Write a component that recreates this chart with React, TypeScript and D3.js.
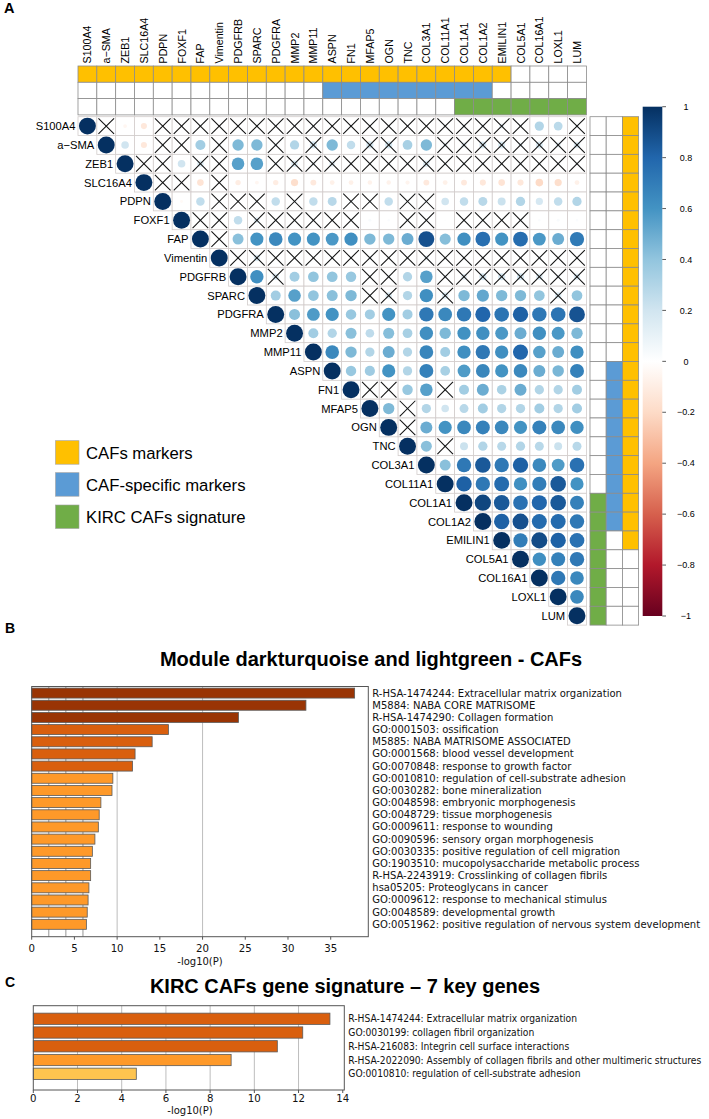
import { useEffect, useRef } from "react"
import * as d3 from "d3"

// genes of the correlation matrix (row / column order)
const genes = [
  "S100A4", "a\u2212SMA", "ZEB1", "SLC16A4", "PDPN", "FOXF1", "FAP", "Vimentin", "PDGFRB",
  "SPARC", "PDGFRA", "MMP2", "MMP11", "ASPN", "FN1", "MFAP5", "OGN", "TNC", "COL3A1",
  "COL11A1", "COL1A1", "COL1A2", "EMILIN1", "COL5A1", "COL16A1", "LOXL1", "LUM",
]

// upper triangle, row i holds the values for columns i+1 .. 26
const corrUpper = [
  [0.03, -0.05, -0.13, 0.02, 0.03, 0.05, 0.02, 0.04, 0.05, 0.04, 0.05, 0.05, 0.04, 0.04, 0.03, 0.05, 0.04, 0.03, 0.05, 0.06, 0.06, 0.1, 0.05, 0.3, 0.27, 0.06],
  [0.2, -0.13, 0.05, 0.04, 0.35, 0.05, 0.45, 0.45, 0.06, 0.3, 0.18, 0.45, 0.25, 0.18, 0.18, 0.33, 0.45, 0.08, 0.1, 0.17, 0.17, 0.08, 0.17, 0.1, 0.15],
  [0.02, 0.03, 0.2, 0.15, 0.04, 0.55, 0.55, 0.06, 0.15, 0.07, 0.12, 0.06, 0.04, 0.05, 0.05, 0.15, 0.05, 0.05, 0.06, 0.05, 0.06, 0.05, 0.04, 0.05],
  [0.02, 0.03, -0.15, 0.02, -0.1, -0.05, -0.1, -0.18, -0.12, -0.08, -0.08, -0.07, -0.07, -0.06, -0.12, -0.08, -0.12, -0.13, -0.15, -0.13, -0.2, -0.18, -0.08],
  [-0.03, 0.25, 0.05, 0.04, 0.05, 0.25, 0.06, 0.25, 0.28, 0.06, 0.05, 0.25, 0.05, 0.06, 0.2, 0.25, 0.28, 0.22, 0.3, 0.18, 0.25, 0.3],
  [0.04, 0.05, 0.25, 0.12, 0.05, 0.04, 0.05, 0.04, 0.04, 0.03, 0.02, 0.05, 0.05, 0.01, 0.04, 0.05, 0.04, 0.05, 0.02, 0.03, 0.02],
  [0.05, 0.42, 0.6, 0.65, 0.6, 0.6, 0.58, 0.62, 0.45, 0.45, 0.5, 0.88, 0.43, 0.62, 0.76, 0.6, 0.77, 0.58, 0.5, 0.71],
  [0.05, 0.15, 0.04, 0.05, 0.03, 0.05, 0.04, 0.06, 0.05, 0.05, 0.1, 0.04, 0.05, 0.04, 0.05, 0.04, 0.05, 0.03, 0.05],
  [0.62, 0.15, 0.35, 0.4, 0.4, 0.38, 0.05, 0.06, 0.3, 0.55, 0.06, 0.12, 0.18, 0.18, 0.18, 0.15, 0.07, 0.15],
  [0.35, 0.55, 0.4, 0.42, 0.45, 0.05, 0.15, 0.3, 0.62, 0.15, 0.45, 0.52, 0.45, 0.45, 0.4, 0.15, 0.4],
  [0.42, 0.57, 0.6, 0.38, 0.35, 0.6, 0.35, 0.72, 0.65, 0.72, 0.8, 0.74, 0.82, 0.72, 0.74, 0.87],
  [0.35, 0.3, 0.42, 0.26, 0.43, 0.33, 0.62, 0.45, 0.61, 0.62, 0.58, 0.5, 0.62, 0.58, 0.45],
  [0.65, 0.45, 0.3, 0.5, 0.3, 0.66, 0.35, 0.62, 0.72, 0.62, 0.8, 0.55, 0.5, 0.62],
  [0.38, 0.36, 0.6, 0.3, 0.68, 0.33, 0.57, 0.66, 0.6, 0.65, 0.5, 0.46, 0.68],
  [0.05, 0.05, 0.38, 0.55, 0.05, 0.35, 0.5, 0.32, 0.5, 0.3, 0.3, 0.35],
  [0.45, 0.05, 0.3, 0.2, 0.28, 0.35, 0.3, 0.3, 0.35, 0.3, 0.35],
  [0.05, 0.5, 0.6, 0.65, 0.68, 0.65, 0.6, 0.68, 0.65, 0.62],
  [0.42, 0.05, 0.22, 0.3, 0.28, 0.3, 0.28, 0.22, 0.28],
  [0.42, 0.72, 0.85, 0.72, 0.82, 0.65, 0.57, 0.75],
  [0.82, 0.72, 0.78, 0.62, 0.7, 0.85, 0.6],
  [0.92, 0.85, 0.75, 0.8, 0.85, 0.68],
  [0.82, 0.88, 0.78, 0.78, 0.72],
  [0.7, 0.9, 0.82, 0.75],
  [0.62, 0.68, 0.72],
  [0.72, 0.65],
  [0.65],
]

// "x" = not significant (crossed), same layout as corrUpper
const insigMask = [
  "x..xxxxxxxxxxxxxxxxxxxx..x",
  "..xx.x..x.x..xx..xxxxxxxx",
  "xx.xx..xxxxxxxxxxxxxxxxx",
  "xx.x...................",
  "..xxx.x..xx.xx........",
  "xx.xxxxxx..xx.xxxx...",
  "x...................",
  "xxxxxxxxxxxxxxxxxxx",
  ".x....xx..xxxxxxxx",
  ".....xx..x.....x.",
  "................",
  "...............",
  "..............",
  ".............",
  "xx..x.......",
  ".x.........",
  "x.........",
  ".x.......",
  "........",
  ".......",
  "......",
  ".....",
  "....",
  "...",
  "..",
  ".",
]

const cafMarkers = genes.slice(0, 23)
const cafSpecific = ["ASPN", "FN1", "MFAP5", "OGN", "TNC", "COL3A1", "COL11A1", "COL1A1", "COL1A2"]
const kircSignature = ["COL1A1", "COL1A2", "EMILIN1", "COL5A1", "COL16A1", "LOXL1", "LUM"]
const legendLabels = ["CAFs markers", "CAF-specific markers", "KIRC CAFs signature"]
const colorbarTicks = [1, 0.8, 0.6, 0.4, 0.2, 0, -0.2, -0.4, -0.6, -0.8, -1]

// panel B enrichment
const bTerms = [
  "R-HSA-1474244: Extracellular matrix organization",
  "M5884: NABA CORE MATRISOME",
  "R-HSA-1474290: Collagen formation",
  "GO:0001503: ossification",
  "M5885: NABA MATRISOME ASSOCIATED",
  "GO:0001568: blood vessel development",
  "GO:0070848: response to growth factor",
  "GO:0010810: regulation of cell-substrate adhesion",
  "GO:0030282: bone mineralization",
  "GO:0048598: embryonic morphogenesis",
  "GO:0048729: tissue morphogenesis",
  "GO:0009611: response to wounding",
  "GO:0090596: sensory organ morphogenesis",
  "GO:0030335: positive regulation of cell migration",
  "GO:1903510: mucopolysaccharide metabolic process",
  "R-HSA-2243919: Crosslinking of collagen fibrils",
  "hsa05205: Proteoglycans in cancer",
  "GO:0009612: response to mechanical stimulus",
  "GO:0048589: developmental growth",
  "GO:0051962: positive regulation of nervous system development",
]
const bValues = [37.8, 32.1, 24.2, 16.0, 14.1, 12.1, 11.8, 9.5, 9.4, 8.1, 7.9, 7.8, 7.4, 7.1, 6.9, 6.9, 6.7, 6.6, 6.5, 6.4]
const bTicks = [0, 5, 10, 15, 20, 25, 30, 35]

// panel C enrichment
const cTerms = [
  "R-HSA-1474244: Extracellular matrix organization",
  "GO:0030199: collagen fibril organization",
  "R-HSA-216083: Integrin cell surface interactions",
  "R-HSA-2022090: Assembly of collagen fibrils and other multimeric structures",
  "GO:0010810: regulation of cell-substrate adhesion",
]
const cValues = [13.42, 12.19, 11.04, 8.95, 4.66]
const cTicks = [0, 2, 4, 6, 8, 10, 12, 14]

const SANS = "'Liberation Sans', Arial, Helvetica, sans-serif"
const DEJAVU = "'DejaVu Sans', sans-serif"
const DEJAVU_C = "'DejaVu Sans Condensed', 'DejaVu Sans', sans-serif"
const COL2 = ["#67001F", "#B2182B", "#D6604D", "#F4A582", "#FDDBC7", "#FFFFFF", "#D1E5F0", "#92C5DE", "#4393C3", "#2166AC", "#053061"]
const ANN = { caf: "#FFC000", spec: "#5B9BD5", kirc: "#70AD47" }

export default function App() {
  const svgRef = useRef<SVGSVGElement>(null)

  useEffect(() => {
    if (!svgRef.current) return
    const svg = d3.select(svgRef.current)
    svg.selectAll("*").remove()

    const width = 709
    const height = 1119
    svg.attr("width", width).attr("height", height)
    svg.append("rect").attr("width", width).attr("height", height).attr("fill", "#fff")

    // ---------- A: correlation matrix ----------
    const cell = 18.83
    const mx0 = 78
    const my0 = 116.7
    const n = genes.length
    const x = d3.scaleBand<string>().domain(genes).range([mx0, mx0 + n * cell])
    const y = d3.scaleBand<string>().domain(genes).range([my0, my0 + n * cell])
    const color = d3.scaleLinear<string>().domain(d3.range(11).map((i) => -1 + i * 0.2)).range(COL2)
    const rad = d3.scaleSqrt().domain([0, 1]).range([0, 0.45 * cell])

    const cells: { row: string; col: string; v: number; insig: boolean }[] = []
    genes.forEach((g, i) => {
      genes.forEach((h, j) => {
        if (j < i) return
        const v = j === i ? 1 : corrUpper[i][j - i - 1]
        const insig = j > i && insigMask[i][j - i - 1] === "x"
        cells.push({ row: g, col: h, v, insig })
      })
    })

    svg.append("text").attr("x", 4).attr("y", 13.3).attr("font-family", SANS)
      .attr("font-weight", "bold").attr("font-size", 14.5).text("A")

    const m = svg.append("g")
    m.selectAll("rect.cell").data(cells).enter().append("rect")
      .attr("class", "cell")
      .attr("x", (d) => x(d.col)!)
      .attr("y", (d) => y(d.row)!)
      .attr("width", cell).attr("height", cell)
      .attr("fill", "#fff").attr("stroke", "#d2cccb").attr("stroke-width", 0.8)

    m.selectAll("circle").data(cells).enter().append("circle")
      .attr("cx", (d) => x(d.col)! + cell / 2)
      .attr("cy", (d) => y(d.row)! + cell / 2)
      .attr("r", (d) => rad(Math.abs(d.v)))
      .attr("fill", (d) => color(d.v))

    const inset = 1.6
    const crosses = m.selectAll("g.x").data(cells.filter((d) => d.insig)).enter().append("g")
    crosses.append("line")
      .attr("x1", (d) => x(d.col)! + inset).attr("y1", (d) => y(d.row)! + inset)
      .attr("x2", (d) => x(d.col)! + cell - inset).attr("y2", (d) => y(d.row)! + cell - inset)
    crosses.append("line")
      .attr("x1", (d) => x(d.col)! + cell - inset).attr("y1", (d) => y(d.row)! + inset)
      .attr("x2", (d) => x(d.col)! + inset).attr("y2", (d) => y(d.row)! + cell - inset)
    crosses.selectAll("line").attr("stroke", "#111").attr("stroke-width", 1.05)

    // row labels
    m.selectAll("text.row").data(genes).enter().append("text")
      .attr("x", (d) => x(d)! - 2.5)
      .attr("y", (d) => y(d)! + cell / 2 + 4)
      .attr("text-anchor", "end").attr("font-family", SANS).attr("font-size", 11.2)
      .text((d) => d)

    // column labels
    m.selectAll("text.col").data(genes).enter().append("text")
      .attr("transform", (d) => `translate(${x(d)! + cell / 2 + 4},63.5) rotate(-90)`)
      .attr("font-family", SANS).attr("font-size", 10.7)
      .text((d) => d)

    // top annotation rows
    const annRows = [
      { set: cafMarkers, fill: ANN.caf },
      { set: cafSpecific, fill: ANN.spec },
      { set: kircSignature, fill: ANN.kirc },
    ]
    const annH = 16.3
    annRows.forEach((a, k) => {
      m.append("g").selectAll("rect").data(genes).enter().append("rect")
        .attr("x", (d) => x(d)!).attr("y", 66 + k * annH)
        .attr("width", cell).attr("height", annH)
        .attr("fill", (d) => (a.set.includes(d) ? a.fill : "#fff"))
        .attr("stroke", "#8c8c8c").attr("stroke-width", 0.8)
    })
    // right annotation columns (reverse order)
    const annW = 16.2
    annRows.slice().reverse().forEach((a, k) => {
      m.append("g").selectAll("rect").data(genes).enter().append("rect")
        .attr("x", 590 + k * annW).attr("y", (d) => y(d)!)
        .attr("width", annW).attr("height", cell)
        .attr("fill", (d) => (a.set.includes(d) ? a.fill : "#fff"))
        .attr("stroke", "#8c8c8c").attr("stroke-width", 0.8)
    })

    // colorbar
    const cb = d3.scaleLinear().domain([-1, 1]).range([616, 106.7])
    const grad = svg.append("defs").append("linearGradient")
      .attr("id", "corrGrad").attr("x1", 0).attr("y1", 1).attr("x2", 0).attr("y2", 0)
    COL2.forEach((c, i) => {
      grad.append("stop").attr("offset", i / (COL2.length - 1)).attr("stop-color", c)
    })
    svg.append("rect").attr("x", 642.7).attr("y", cb(1)).attr("width", 19.6)
      .attr("height", cb(-1) - cb(1)).attr("fill", "url(#corrGrad)")
    const cbt = svg.append("g").selectAll("g").data(colorbarTicks).enter().append("g")
    cbt.append("line").attr("x1", 662.3).attr("x2", 666).attr("y1", (d) => cb(d)).attr("y2", (d) => cb(d))
      .attr("stroke", "#333").attr("stroke-width", 0.8)
    cbt.append("text").attr("x", 686).attr("y", (d) => cb(d) + 3.2).attr("text-anchor", "middle")
      .attr("font-family", SANS).attr("font-size", 9)
      .text((d) => String(d).replace("-", "\u2212"))

    // legend
    const legendFills = [ANN.caf, ANN.spec, ANN.kirc]
    const legY = [440.7, 472.7, 505]
    legendLabels.forEach((lab, i) => {
      svg.append("rect").attr("x", 55.5).attr("y", legY[i]).attr("width", 23.5).attr("height", 23.5)
        .attr("fill", legendFills[i]).attr("stroke", "#a0a0a0").attr("stroke-width", 0.6)
      svg.append("text").attr("x", 86).attr("y", legY[i] + 18).attr("font-family", SANS)
        .attr("font-size", 16.7).text(lab)
    })

    // ---------- enrichment bar panels ----------
    const barColor = d3.scaleThreshold<number, string>()
      .domain([6, 10, 20]).range(["#FEC44F", "#FE9929", "#D95F0E", "#993404"])

    function barPanel(opts: {
      letter: string; letterY: number; title: string; titleX: number; titleY: number
      terms: string[]; values: number[]; ticks: number[]; grid: number[]; minor: number[]
      xDomain: number; left: number; right: number; top: number; bottom: number
      bandTop: number; step: number; labelX: number; labelFont: string; labelSize: number
      tickY: number; axisTitleX: number; axisTitleY: number
    }) {
      const g = svg.append("g")
      g.append("text").attr("x", 5).attr("y", opts.letterY).attr("font-family", SANS)
        .attr("font-weight", "bold").attr("font-size", 14).text(opts.letter)
      g.append("text").attr("x", opts.titleX).attr("y", opts.titleY).attr("text-anchor", "middle")
        .attr("font-family", SANS).attr("font-weight", "bold").attr("font-size", 20).text(opts.title)

      const bx = d3.scaleLinear().domain([0, opts.xDomain]).range([opts.left, opts.right])
      const by = d3.scaleBand<string>().domain(opts.terms)
        .range([opts.bandTop, opts.bandTop + opts.terms.length * opts.step])
        .paddingInner(0.18).paddingOuter(0.09)

      g.append("g").selectAll("line").data(opts.minor).enter().append("line")
        .attr("x1", (d) => bx(d)).attr("x2", (d) => bx(d)).attr("y1", opts.top).attr("y2", opts.bottom)
        .attr("stroke", "#8a8a8a").attr("stroke-width", 0.9)
      g.append("g").selectAll("line").data(opts.grid).enter().append("line")
        .attr("x1", (d) => bx(d)).attr("x2", (d) => bx(d)).attr("y1", opts.top).attr("y2", opts.bottom)
        .attr("stroke", "#bdbdbd").attr("stroke-width", 1)

      g.append("g").selectAll("rect").data(opts.terms).enter().append("rect")
        .attr("x", bx(0)).attr("y", (d) => by(d)!)
        .attr("width", (d, i) => bx(opts.values[i]) - bx(0)).attr("height", by.bandwidth())
        .attr("fill", (d, i) => barColor(opts.values[i]))
        .attr("stroke", "#5a5a5a").attr("stroke-width", 0.8)

      g.append("rect").attr("x", opts.left).attr("y", opts.top)
        .attr("width", opts.right - opts.left).attr("height", opts.bottom - opts.top)
        .attr("fill", "none").attr("stroke", "#555").attr("stroke-width", 1)

      g.append("g").selectAll("text").data(opts.terms).enter().append("text")
        .attr("x", opts.labelX).attr("y", (d) => by(d)! + by.bandwidth() / 2 + 3.5)
        .attr("font-family", opts.labelFont).attr("font-size", opts.labelSize).attr("fill", "#111")
        .text((d) => d)

      const tk = g.append("g").selectAll("g").data(opts.ticks).enter().append("g")
      tk.append("line").attr("x1", (d) => bx(d)).attr("x2", (d) => bx(d))
        .attr("y1", opts.bottom).attr("y2", opts.bottom + 3).attr("stroke", "#555")
      tk.append("text").attr("x", (d) => bx(d)).attr("y", opts.tickY).attr("text-anchor", "middle")
        .attr("font-family", DEJAVU).attr("font-size", 10.2).attr("fill", "#111").text((d) => d)
      g.append("text").attr("x", opts.axisTitleX).attr("y", opts.axisTitleY).attr("text-anchor", "middle")
        .attr("font-family", DEJAVU).attr("font-size", 10).attr("fill", "#111").text("-log10(P)")
    }

    barPanel({
      letter: "B", letterY: 633.3, title: "Module darkturquoise and lightgreen - CAFs", titleX: 371, titleY: 666,
      terms: bTerms, values: bValues, ticks: bTicks, grid: [10, 20], minor: [2, 4, 6],
      xDomain: 39.4, left: 31.7, right: 368.3, top: 686.5, bottom: 936.7,
      bandTop: 687, step: 12.17, labelX: 372.3, labelFont: DEJAVU, labelSize: 10,
      tickY: 952, axisTitleX: 200, axisTitleY: 964.5,
    })
    barPanel({
      letter: "C", letterY: 986.7, title: "KIRC CAFs gene signature \u2013 7 key genes", titleX: 345, titleY: 993,
      terms: cTerms, values: cValues, ticks: cTicks, grid: [2, 4, 6, 8, 10, 12], minor: [],
      xDomain: 14.07, left: 33.3, right: 344.3, top: 1005.7, bottom: 1090,
      bandTop: 1011.9, step: 13.75, labelX: 348.3, labelFont: DEJAVU_C, labelSize: 10.2,
      tickY: 1102, axisTitleX: 190, axisTitleY: 1114,
    })
  }, [])

  return (
    <div style={{ position: "absolute", left: 0, top: 0 }}>
      <svg ref={svgRef} style={{ display: "block" }}></svg>
    </div>
  )
}
